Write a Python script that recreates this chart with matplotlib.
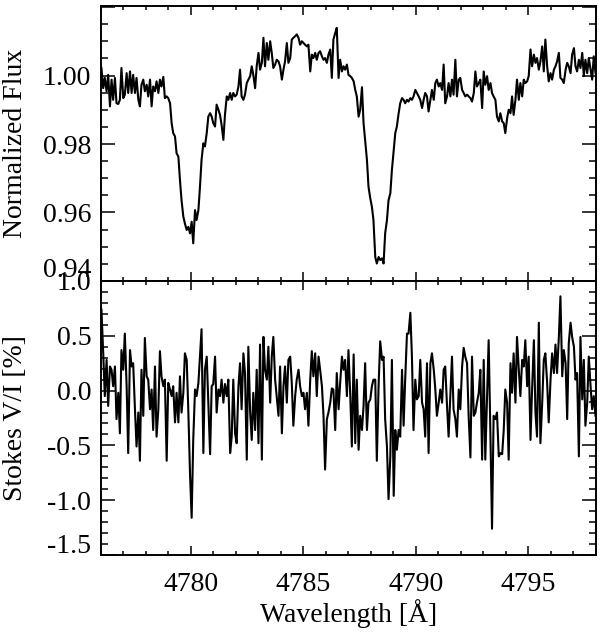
import numpy as np
import matplotlib
matplotlib.use("Agg")
import matplotlib.pyplot as plt
from matplotlib.ticker import MultipleLocator, FuncFormatter
from matplotlib.transforms import offset_copy

plt.rcParams['font.family'] = ['Liberation Serif', 'DejaVu Serif']
plt.rcParams['font.size'] = 20

# wavelength grid of the spectrum [A]
wavelength = [
    4776.02, 4776.10, 4776.17, 4776.25, 4776.32, 4776.40, 4776.47, 4776.54, 4776.62, 4776.69,
    4776.77, 4776.84, 4776.91, 4776.99, 4777.06, 4777.14, 4777.21, 4777.29, 4777.36, 4777.43,
    4777.51, 4777.58, 4777.66, 4777.73, 4777.80, 4777.88, 4777.95, 4778.03, 4778.10, 4778.18,
    4778.25, 4778.32, 4778.40, 4778.47, 4778.55, 4778.62, 4778.69, 4778.77, 4778.84, 4778.92,
    4778.99, 4779.07, 4779.14, 4779.21, 4779.29, 4779.36, 4779.44, 4779.51, 4779.58, 4779.66,
    4779.73, 4779.81, 4779.88, 4779.96, 4780.03, 4780.10, 4780.18, 4780.25, 4780.33, 4780.40,
    4780.47, 4780.55, 4780.62, 4780.70, 4780.77, 4780.85, 4780.92, 4780.99, 4781.07, 4781.14,
    4781.22, 4781.29, 4781.36, 4781.44, 4781.51, 4781.59, 4781.66, 4781.74, 4781.81, 4781.88,
    4781.96, 4782.03, 4782.11, 4782.18, 4782.25, 4782.33, 4782.40, 4782.48, 4782.55, 4782.63,
    4782.70, 4782.77, 4782.85, 4782.92, 4783.00, 4783.07, 4783.15, 4783.22, 4783.29, 4783.37,
    4783.44, 4783.52, 4783.59, 4783.66, 4783.74, 4783.81, 4783.89, 4783.96, 4784.04, 4784.11,
    4784.18, 4784.26, 4784.33, 4784.41, 4784.48, 4784.55, 4784.63, 4784.70, 4784.78, 4784.85,
    4784.93, 4785.00, 4785.07, 4785.15, 4785.22, 4785.30, 4785.37, 4785.44, 4785.52, 4785.59,
    4785.67, 4785.74, 4785.82, 4785.89, 4785.96, 4786.04, 4786.11, 4786.19, 4786.26, 4786.33,
    4786.41, 4786.48, 4786.56,
    4786.63, 4786.71, 4786.78, 4786.85, 4786.93, 4787.00, 4787.08, 4787.15, 4787.23, 4787.30,
    4787.37, 4787.45, 4787.52, 4787.60, 4787.67, 4787.74, 4787.82, 4787.89, 4787.97, 4788.04,
    4788.11, 4788.19, 4788.26, 4788.34, 4788.41, 4788.49, 4788.56, 4788.63, 4788.71, 4788.78,
    4788.86, 4788.93, 4789.01, 4789.08, 4789.15, 4789.23, 4789.30, 4789.38, 4789.45, 4789.52,
    4789.60, 4789.67, 4789.75, 4789.82, 4789.89, 4789.97, 4790.04, 4790.12, 4790.19, 4790.27,
    4790.34, 4790.41, 4790.49, 4790.56, 4790.64, 4790.71, 4790.79, 4790.86, 4790.93, 4791.01,
    4791.08, 4791.16, 4791.23, 4791.30, 4791.38, 4791.45, 4791.53, 4791.60, 4791.67, 4791.75,
    4791.82, 4791.90, 4791.97, 4792.05, 4792.12, 4792.19, 4792.27, 4792.34, 4792.42, 4792.49,
    4792.57, 4792.64, 4792.71, 4792.79, 4792.86, 4792.94, 4793.01, 4793.08, 4793.16, 4793.23,
    4793.31, 4793.38, 4793.45, 4793.53, 4793.60, 4793.68, 4793.75, 4793.83, 4793.90, 4793.97,
    4794.05, 4794.12, 4794.20, 4794.27, 4794.34, 4794.42, 4794.49, 4794.57, 4794.64, 4794.72,
    4794.79, 4794.86, 4794.94, 4795.01, 4795.09, 4795.16, 4795.24, 4795.31, 4795.38, 4795.46,
    4795.53, 4795.61, 4795.68, 4795.75, 4795.83, 4795.90, 4795.98, 4796.05, 4796.13, 4796.20,
    4796.27, 4796.35, 4796.42, 4796.50, 4796.57, 4796.65, 4796.72, 4796.79, 4796.87, 4796.94,
    4797.02, 4797.09, 4797.16, 4797.24, 4797.31, 4797.39, 4797.46, 4797.53, 4797.61, 4797.68,
    4797.76, 4797.83, 4797.90, 4797.98,
]

# normalized intensity (Stokes I)
flux = [
    1.0022, 0.9963, 0.9993, 0.9954, 1.0002, 0.9910, 0.9988, 0.9929, 0.9993, 0.9919,
    0.9917, 0.9929, 1.0022, 0.9934, 0.9944, 1.0007, 0.9949, 1.0012, 0.9949, 1.0002,
    0.9949, 0.9993, 0.9929, 0.9910, 0.9973, 0.9988, 0.9954, 0.9973, 0.9939, 0.9988,
    0.9910, 0.9968, 0.9954, 0.9983, 0.9949, 0.9988, 0.9968, 0.9996, 0.9934, 0.9939,
    0.9934, 0.9919, 0.9861, 0.9832, 0.9822, 0.9773, 0.9763, 0.9695, 0.9636, 0.9588,
    0.9568, 0.9549, 0.9558, 0.9539, 0.9573, 0.9510, 0.9607, 0.9578, 0.9607, 0.9675,
    0.9754, 0.9802, 0.9793, 0.9832, 0.9880, 0.9890, 0.9880, 0.9861, 0.9851, 0.9915,
    0.9900, 0.9885, 0.9856, 0.9812, 0.9885, 0.9939, 0.9929, 0.9949, 0.9929, 0.9949,
    0.9939, 0.9944, 0.9968, 1.0017, 0.9939, 0.9929, 0.9944, 0.9978, 0.9988, 0.9998,
    1.0027, 1.0002, 0.9963, 1.0027, 1.0066, 1.0017, 1.0037, 1.0110, 1.0027, 1.0095,
    1.0046, 1.0100, 1.0066, 1.0022, 1.0032, 1.0046, 1.0041, 1.0027, 0.9988, 1.0017,
    1.0041, 1.0095, 1.0037, 1.0051, 1.0105, 1.0110, 1.0115, 1.0120, 1.0110, 1.0090,
    1.0100, 1.0095, 1.0090, 1.0085, 1.0090, 1.0012, 1.0061, 1.0051, 1.0066, 1.0046,
    1.0066, 1.0071, 1.0056, 1.0046, 1.0051, 1.0037, 1.0061, 1.0076, 0.9993, 1.0105,
    1.0124, 1.0139, 0.9993,
    1.0046, 1.0012, 1.0027, 1.0017, 1.0032, 1.0002, 0.9998, 0.9993, 0.9983, 0.9958,
    0.9939, 0.9880, 0.9900, 0.9966, 0.9861, 0.9812, 0.9754, 0.9675, 0.9641, 0.9617,
    0.9578, 0.9470, 0.9451, 0.9470, 0.9461, 0.9466, 0.9451, 0.9539, 0.9578, 0.9636,
    0.9656, 0.9724, 0.9783, 0.9832, 0.9851, 0.9890, 0.9919, 0.9934, 0.9929, 0.9919,
    0.9929, 0.9924, 0.9934, 0.9929, 0.9939, 0.9958, 0.9949, 0.9939, 0.9929, 0.9905,
    0.9929, 0.9949, 0.9939, 0.9895, 0.9929, 0.9958, 0.9929, 0.9978, 0.9988, 0.9968,
    0.9978, 0.9958, 1.0032, 0.9919, 0.9939, 0.9978, 0.9939, 0.9988, 0.9944, 1.0046,
    0.9939, 0.9988, 0.9993, 0.9958, 0.9949, 0.9939, 0.9944, 0.9939, 0.9934, 0.9924,
    0.9949, 1.0012, 0.9968, 0.9978, 0.9988, 0.9905, 1.0012, 0.9973, 0.9998, 0.9958,
    0.9978, 0.9949, 0.9939, 0.9929, 0.9880, 0.9866, 0.9890, 0.9866, 0.9861, 0.9832,
    0.9875, 0.9900, 0.9890, 0.9939, 0.9885, 0.9929, 0.9988, 0.9929, 0.9978, 0.9939,
    0.9988, 0.9978, 0.9983, 0.9998, 1.0076, 1.0027, 1.0061, 1.0037, 1.0051, 1.0017,
    1.0041, 1.0085, 1.0012, 1.0105, 1.0027, 0.9983, 1.0007, 0.9988, 1.0017, 1.0027,
    1.0041, 1.0066, 0.9993, 0.9988, 0.9978, 1.0017, 1.0037, 1.0027, 1.0007, 1.0061,
    1.0080, 1.0027, 1.0012, 1.0046, 1.0022, 1.0066, 0.9998, 1.0046, 1.0007, 1.0051,
    1.0017, 0.9988, 1.0056, 1.0007,
]

# circular polarization V/I [%]
stokes_v = [
    0.74, 0.34, -0.05, 0.28, -0.14, 0.22, 0.19, 0.04, 0.22, -0.26,
    -0.02, -0.39, 0.37, 0.19, 0.52, 0.04, -0.57, 0.37, 0.22, 0.25,
    -0.17, -0.51, -0.20, -0.64, 0.19, -0.23, 0.48, 0.13, 0.10, -0.17,
    0.01, -0.36, 0.22, -0.42, -0.17, 0.36, 0.13, 0.04, 0.10, -0.64,
    0.07, 0.01, -0.05, 0.04, -0.29, -0.02, -0.29, 0.13, -0.20, -0.02,
    0.34, 0.28, -0.17, -0.78, -1.16, -0.45, 0.01, -0.05, 0.07, 0.31,
    0.56, -0.57, 0.19, 0.31, -0.11, -0.58, 0.04, 0.06, 0.31, -0.20,
    0.01, -0.05, 0.10, -0.11, 0.06, -0.05, 0.10, -0.57, -0.42, 0.10,
    -0.39, -0.48, 0.04, 0.25, -0.17, 0.34, 0.16, -0.63, 0.40, -0.20,
    -0.45, -0.02, -0.36, 0.19, -0.48, 0.42, -0.63, 0.49, 0.19, 0.10,
    0.40, -0.11, 0.31, 0.49, 0.10, -0.05, -0.23, 0.22, -0.39, 0.04,
    0.22, -0.11, 0.28, 0.31, 0.07, -0.32, -0.05, 0.10, 0.19, 0.04,
    -0.05, -0.02, -0.17, -0.02, -0.32, 0.10, 0.36, 0.13, 0.34, -0.05,
    0.31, 0.19, 0.04, -0.23, -0.72, -0.26, -0.20, -0.11, 0.02, 0.01,
    -0.36, 0.16, -0.17,
    0.07, 0.31, 0.19, 0.28, -0.05, 0.37, -0.05, -0.51, 0.33, -0.48,
    0.10, -0.54, -0.23, -0.36, -0.14, 0.25, -0.36, -0.11, -0.08, 0.04,
    0.10, 0.10, -0.64, 0.06, 0.45, 0.28, 0.31, -0.26, -0.51, -0.99,
    -0.60, 0.28, -0.96, -0.36, -0.54, -0.36, -0.42, 0.19, -0.32, 0.10,
    0.52, 0.52, 0.71, 0.31, -0.36, 0.10, -0.08, -0.05, 0.28, -0.11,
    -0.17, -0.42, 0.25, -0.57, 0.25, 0.34, 0.19, 0.01, -0.23, -0.11,
    0.01, -0.11, 0.19, 0.22, -0.14, -0.42, -0.02, 0.31, -0.17, -0.26,
    -0.42, 0.01, -0.17, 0.22, 0.39, 0.31, 0.25, -0.23, -0.61, 0.31,
    -0.23, -0.20, -0.11, -0.02, 0.19, -0.63, 0.28, -0.63, -0.05, 0.46,
    -0.42, -1.26, -0.23, -0.26, -0.20, -0.60, -0.57, -0.58, -0.36, 0.01,
    -0.11, -0.63, 0.25, -0.02, 0.34, -0.11, 0.49, 0.19, -0.05, 0.28,
    0.22, 0.46, 0.04, 0.31, -0.45, 0.01, 0.46, -0.20, -0.42, 0.62,
    -0.48, -0.11, 0.28, 0.34, 0.07, -0.29, 0.10, 0.34, 0.16, 0.42,
    0.16, 0.49, 0.86, 0.13, 0.37, 0.25, -0.26, 0.43, 0.62, 0.49,
    0.40, 0.10, 0.16, -0.60, 0.49, -0.08, 0.28, -0.32, -0.11, 0.31,
    0.04, -0.17, -0.05, -0.23,
]

fig = plt.figure(figsize=(6.0, 6.32), dpi=100)
ax1 = fig.add_axes([0.1683, 0.5554, 0.825, 0.4351])
ax2 = fig.add_axes([0.1683, 0.1218, 0.825, 0.4336], sharex=ax1)

ax1.plot(wavelength, flux, color='black', lw=1.5)
ax2.plot(wavelength, stokes_v, color='black', lw=1.5)

ax1.set_xlim(4776, 4798)
ax1.set_ylim(0.94, 1.0203)
ax2.set_ylim(-1.5, 1.0)

ax1.xaxis.set_major_locator(MultipleLocator(5))
ax1.xaxis.set_minor_locator(MultipleLocator(1))
ax1.yaxis.set_major_locator(MultipleLocator(0.02))
ax1.yaxis.set_minor_locator(MultipleLocator(0.005))
ax2.yaxis.set_major_locator(MultipleLocator(0.5))
ax2.yaxis.set_minor_locator(MultipleLocator(0.1))

# the lowest label of each panel is drawn separately, lifted inside the axis
def ffmt(v, p):
    if v < 0.945 or v > 1.015:
        return ''
    return f'{v:.2f}'

def vfmt(v, p):
    if v < -1.45:
        return ''
    return f'{v:.1f}'

ax1.yaxis.set_major_formatter(FuncFormatter(ffmt))
ax2.yaxis.set_major_formatter(FuncFormatter(vfmt))

for ax in (ax1, ax2):
    for s in ax.spines.values():
        s.set_linewidth(1.4)
    ax.tick_params(axis='both', which='both', direction='in', top=True, right=True,
                   width=1.1, labelsize=20)
    ax.tick_params(axis='y', which='major', length=10, pad=7)
    ax.tick_params(axis='y', which='minor', length=5)
    ax.tick_params(axis='x', which='major', length=6.5, pad=12)
    ax.tick_params(axis='x', which='minor', length=3.2)

ax1.tick_params(axis='x', labelbottom=False)

tr1 = offset_copy(ax1.get_yaxis_transform(), fig=fig, x=-10, y=10, units='dots')
tr2 = offset_copy(ax2.get_yaxis_transform(), fig=fig, x=-10, y=8.5, units='dots')
ax1.text(0, 0.94, '0.94', transform=tr1, ha='right', va='center', fontsize=20)
ax2.text(0, -1.5, '-1.5', transform=tr2, ha='right', va='center', fontsize=20)

ax1.set_ylabel('Normalized Flux', fontsize=20)
ax2.set_ylabel('Stokes V/I [%]', fontsize=20)
ax1.yaxis.set_label_coords(-0.147, 0.5)
ax2.yaxis.set_label_coords(-0.147, 0.5)
ax2.set_xlabel('Wavelength [\u00c5]', fontsize=20, labelpad=2)

fig.savefig('out.png', dpi=100)
